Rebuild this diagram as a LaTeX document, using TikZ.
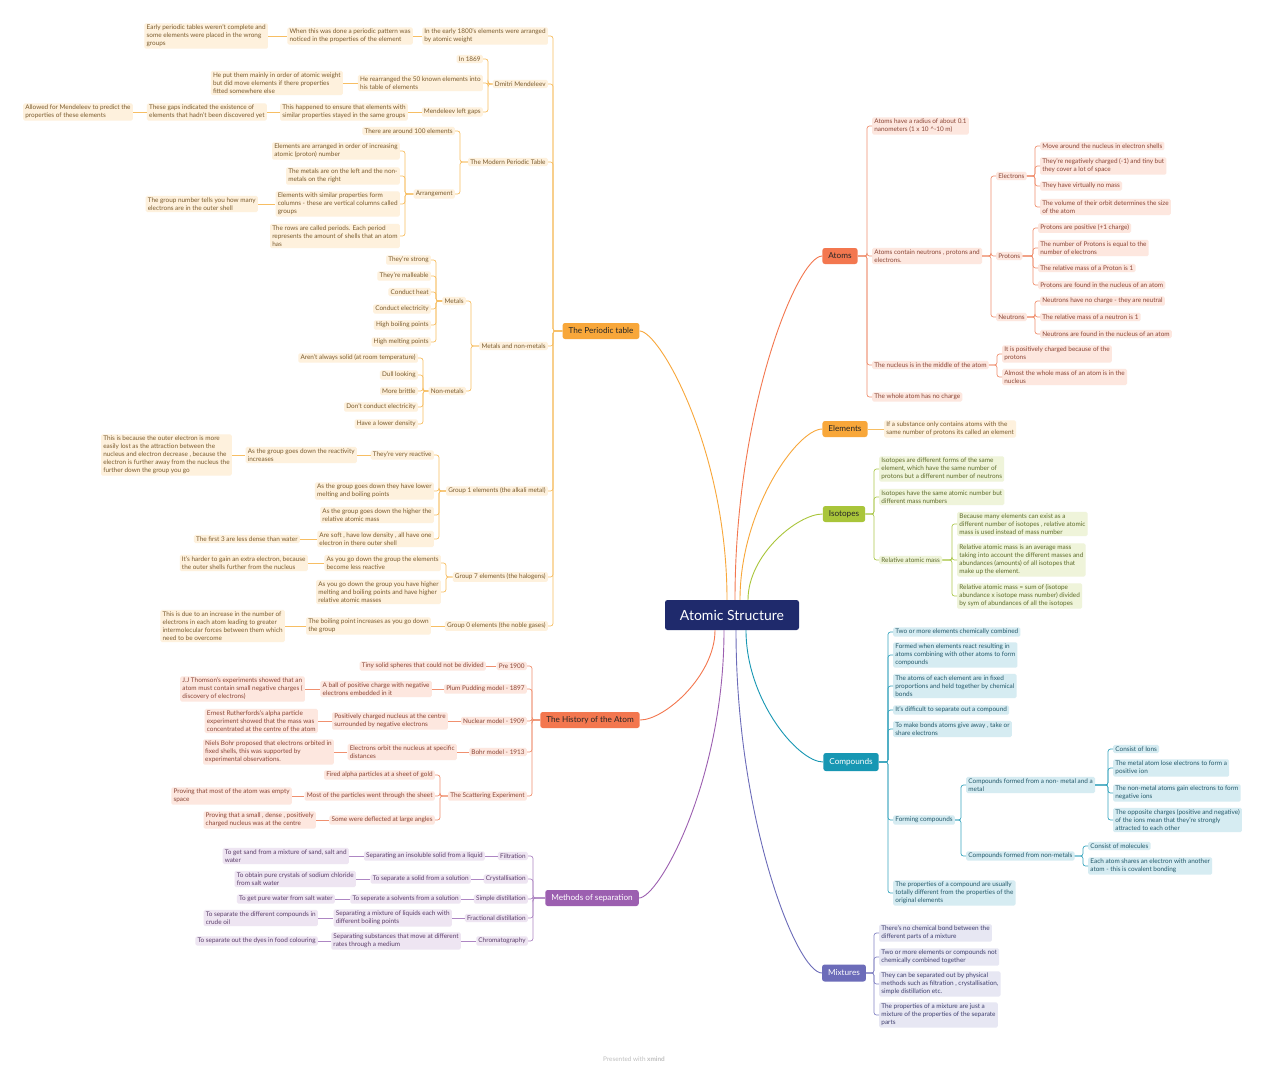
\documentclass[tikz,border=0pt]{standalone}
\usepackage{fontspec}
\setmainfont{Lato}
\usepackage{xcolor}
\usepackage{tikz}
\usetikzlibrary{positioning, calc}
\definecolor{rootMain}{HTML}{1F2A6C}
\definecolor{ptMain}{HTML}{F8A73A}
\definecolor{ptLine}{HTML}{F7BE63}
\definecolor{ptFill}{HTML}{FEF1DD}
\definecolor{ptText}{HTML}{7A5B2E}
\definecolor{atMain}{HTML}{F3774F}
\definecolor{atLine}{HTML}{F0906F}
\definecolor{atFill}{HTML}{FDE7DF}
\definecolor{atText}{HTML}{8A4535}
\definecolor{isMain}{HTML}{A9C53A}
\definecolor{isLine}{HTML}{ADC94F}
\definecolor{isFill}{HTML}{EFF4DA}
\definecolor{isText}{HTML}{5E6B2B}
\definecolor{coMain}{HTML}{1797B3}
\definecolor{coLine}{HTML}{3AA6BF}
\definecolor{coFill}{HTML}{D6ECF2}
\definecolor{coText}{HTML}{24596A}
\definecolor{mxMain}{HTML}{6C6CB9}
\definecolor{mxLine}{HTML}{8585C4}
\definecolor{mxFill}{HTML}{E7E7F3}
\definecolor{mxText}{HTML}{3F3F6E}
\definecolor{msMain}{HTML}{9C5FB0}
\definecolor{msLine}{HTML}{AE86C3}
\definecolor{msFill}{HTML}{EEE5F2}
\definecolor{msText}{HTML}{5B3E69}
\newcommand{\leafsize}{\fontsize{6.4}{8}\selectfont}
\newcommand{\branchsize}{\fontsize{8.2}{10}\selectfont}
\tikzset{
  leaf/.style={
    rectangle, rounded corners=1.5pt,
    fill=#1Fill, text=#1Text,
    inner xsep=2.2pt, inner ysep=1.7pt,
    align=left, font=\leafsize
  },
  branch/.style={
    rectangle, rounded corners=2.5pt,
    fill=#1Main, text=black!85,
    minimum height=16pt, inner xsep=6pt,
    font=\branchsize
  },
  link/.style={draw=#1Line, line width=0.7pt, rounded corners=2.5pt},
  curve/.style={draw=#1Main, line width=0.9pt}
}

\begin{document}
\begin{tikzpicture}[x=1pt, y=-1pt]
  \useasboundingbox[fill=white] (0,0) rectangle (1269,1080);

  % centre
  \node[rectangle, rounded corners=2.5pt, fill=rootMain, text=white,
    minimum width=134pt, minimum height=30pt,
    font=\fontsize{14}{16}\selectfont] (root) at (732,615) {Atomic Structure};

  % main topics
  \node[branch=pt] (pt) at (601,331) {The Periodic table};
  \node[branch=at] (hi) at (590,720) {The History of the Atom};
  \node[branch=ms, text=white] (ms) at (592,898) {Methods of separation};
  \node[branch=at] (at) at (840,256) {Atoms};
  \node[branch=pt] (el) at (845,429) {Elements};
  \node[branch=is] (is) at (844,514) {Isotopes};
  \node[branch=co, text=white, minimum height=18pt] (co) at (851,762) {Compounds};
  \node[branch=mx, text=white, minimum height=17pt] (mx) at (844,973) {Mixtures};

  \draw[curve=pt] ([xshift=-5pt]root.north) .. controls +(0,-150) and +(20,0) .. (pt.east);
  \draw[curve=at] ([xshift=3pt]root.north) .. controls +(0,-190) and +(-25,0) .. (at.west);
  \draw[curve=pt] ([xshift=8pt]root.north) .. controls +(0,-90) and +(-25,0) .. (el.west);
  \draw[curve=is] ([xshift=16pt]root.north) .. controls +(0,-45) and +(-25,0) .. (is.west);
  \draw[curve=at] ([xshift=-17pt]root.south) .. controls +(0,45) and +(25,0) .. (hi.east);
  \draw[curve=ms] ([xshift=-8pt]root.south) .. controls +(0,150) and +(20,0) .. (ms.east);
  \draw[curve=mx] ([xshift=4pt]root.south) .. controls +(0,190) and +(-25,0) .. (mx.west);
  \draw[curve=co] ([xshift=14pt]root.south) .. controls +(0,70) and +(-25,0) .. (co.west);

  % the periodic table
  \begin{scope}[every node/.style={leaf=pt, anchor=east}]
    \node (ptEarly) at (548,36) {In the early 1800's elements were arranged\\by atomic weight};
    \node (ptPattern) at (413,36) {When this was done a periodic pattern was\\noticed in the properties of the element};
    \node (ptWrong) at (268,36) {Early periodic tables weren't complete and\\some elements were placed in the wrong\\groups};
    \node (ptDmitri) at (548,84) {Dmitri Mendeleev};
    \node (pt1869) at (483,59) {In 1869};
    \node (ptRearr) at (483,83) {He rearranged the 50 known elements into\\his table of elements};
    \node (ptMainly) at (343,83) {He put them mainly in order of atomic weight\\but did move elements if there properties\\fitted somewhere else};
    \node (ptGaps) at (483,112) {Mendeleev left gaps};
    \node (ptEnsure) at (408,112) {This happened to ensure that elements with\\similar properties stayed in the same groups};
    \node (ptIndicate) at (267,112) {These gaps indicated the existence of\\elements that hadn't been discovered yet};
    \node (ptPredict) at (133,112) {Allowed for Mendeleev to predict the\\properties of these elements};
    \node (ptModern) at (548,162) {The Modern Periodic Table};
    \node (ptHundred) at (455,131) {There are around 100 elements};
    \node (ptArr) at (455,194) {Arrangement};
    \node (ptArrA) at (400,151) {Elements are arranged in order of increasing\\atomic (proton) number};
    \node (ptArrB) at (400,176) {The metals are on the left and the non-\\metals on the right};
    \node (ptArrC) at (400,204) {Elements with similar properties form\\columns - these are vertical columns called\\groups};
    \node (ptGroupNo) at (258,204) {The group number tells you how many\\electrons are in the outer shell};
    \node (ptArrD) at (400,236) {The rows are called periods. Each period\\represents the amount of shells that an atom\\has};
    \node (ptMetNon) at (548,346) {Metals and non-metals};
    \node (ptMetals) at (466,301) {Metals};
    \node (ptM1) at (431,260) {They're strong};
    \node (ptM2) at (431,276) {They're malleable};
    \node (ptM3) at (431,292) {Conduct heat};
    \node (ptM4) at (431,309) {Conduct electricity};
    \node (ptM5) at (431,325) {High boiling points};
    \node (ptM6) at (431,342) {High melting points};
    \node (ptNonMet) at (466,391) {Non-metals};
    \node (ptN1) at (418,358) {Aren't always solid (at room temperature)};
    \node (ptN2) at (418,375) {Dull looking};
    \node (ptN3) at (418,391) {More brittle};
    \node (ptN4) at (418,407) {Don't conduct electricity};
    \node (ptN5) at (418,424) {Have a lower density};
    \node (ptGroupI) at (548,491) {Group 1 elements (the alkali metal)};
    \node (ptReactive) at (434,455) {They're very reactive};
    \node (ptReactDown) at (357,455) {As the group goes down the reactivity\\increases};
    \node (ptBecause) at (232,455) {This is because the outer electron is more\\easily lost as the attraction between the\\nucleus and electron decrease , because the\\electron is further away from the nucleus the\\further down the group you go};
    \node (ptLowerMP) at (434,491) {As the group goes down they have lower\\melting and boiling points};
    \node (ptHigherRAM) at (434,515) {As the group goes down the higher the\\relative atomic mass};
    \node (ptSoft) at (434,539) {Are soft , have low density , all have one\\electron in there outer shell};
    \node (ptFirst3) at (300,539) {The first 3 are less dense than water};
    \node (ptGroup7) at (548,577) {Group 7 elements (the halogens)};
    \node (ptLessReact) at (441,563) {As you go down the group the elements\\become less reactive};
    \node (ptHarder) at (308,563) {It's harder to gain an extra electron, because\\the outer shells further from the nucleus};
    \node (ptHigherMP) at (441,592) {As you go down the group you have higher\\melting and boiling points and have higher\\relative atomic masses};
    \node (ptGroup0) at (548,626) {Group 0 elements (the noble gases)};
    \node (ptBoilInc) at (431,626) {The boiling point increases as you go down\\the group};
    \node (ptDueTo) at (285,626) {This is due to an increase in the number of\\electrons in each atom leading to greater\\intermolecular forces between them which\\need to be overcome};
  \end{scope}
  \foreach \c in {ptEarly, ptDmitri, ptModern, ptMetNon, ptGroupI, ptGroup7, ptGroup0}
    \draw[link=pt] (\c.east) -- ++(5,0) |- (pt.west);
  \foreach \c in {pt1869, ptRearr, ptGaps}
    \draw[link=pt] (\c.east) -- ++(5,0) |- (ptDmitri.west);
  \foreach \c in {ptHundred, ptArr}
    \draw[link=pt] (\c.east) -- ++(5,0) |- (ptModern.west);
  \foreach \c in {ptArrA, ptArrB, ptArrC, ptArrD}
    \draw[link=pt] (\c.east) -- ++(5,0) |- (ptArr.west);
  \foreach \c in {ptMetals, ptNonMet}
    \draw[link=pt] (\c.east) -- ++(5,0) |- (ptMetNon.west);
  \foreach \c in {ptM1, ptM2, ptM3, ptM4, ptM5, ptM6}
    \draw[link=pt] (\c.east) -- ++(5,0) |- (ptMetals.west);
  \foreach \c in {ptN1, ptN2, ptN3, ptN4, ptN5}
    \draw[link=pt] (\c.east) -- ++(5,0) |- (ptNonMet.west);
  \foreach \c in {ptReactive, ptLowerMP, ptHigherRAM, ptSoft}
    \draw[link=pt] (\c.east) -- ++(5,0) |- (ptGroupI.west);
  \foreach \c in {ptLessReact, ptHigherMP}
    \draw[link=pt] (\c.east) -- ++(5,0) |- (ptGroup7.west);
  \draw[link=pt] (ptPattern.east) -- (ptEarly.west);
  \draw[link=pt] (ptWrong.east) -- (ptPattern.west);
  \draw[link=pt] (ptMainly.east) -- (ptRearr.west);
  \draw[link=pt] (ptEnsure.east) -- (ptGaps.west);
  \draw[link=pt] (ptIndicate.east) -- (ptEnsure.west);
  \draw[link=pt] (ptPredict.east) -- (ptIndicate.west);
  \draw[link=pt] (ptGroupNo.east) -- (ptArrC.west);
  \draw[link=pt] (ptReactDown.east) -- (ptReactive.west);
  \draw[link=pt] (ptBecause.east) -- (ptReactDown.west);
  \draw[link=pt] (ptFirst3.east) -- (ptSoft.west);
  \draw[link=pt] (ptHarder.east) -- (ptLessReact.west);
  \draw[link=pt] (ptBoilInc.east) -- (ptGroup0.west);
  \draw[link=pt] (ptDueTo.east) -- (ptBoilInc.west);

  % the history of the atom
  \begin{scope}[every node/.style={leaf=at, anchor=east}]
    \node (hiPre) at (527,666) {Pre 1900};
    \node (hiTiny) at (486,666) {Tiny solid spheres that could not be divided};
    \node (hiPlum) at (527,689) {Plum Pudding model - 1897};
    \node (hiBall) at (432,689) {A ball of positive charge with negative\\electrons embedded in it};
    \node (hiThomson) at (305,689) {J.J Thomson's experiments showed that an\\atom must contain small negative charges (\\discovery of electrons)};
    \node (hiNuclear) at (527,721) {Nuclear model - 1909};
    \node (hiPosNuc) at (448,721) {Positively charged nucleus at the centre\\surrounded by negative electrons};
    \node (hiRuth) at (318,721) {Ernest Rutherfords's alpha particle\\experiment showed that the mass was\\concentrated at the centre of the atom};
    \node (hiBohr) at (527,752) {Bohr model - 1913};
    \node (hiOrbit) at (457,752) {Electrons orbit the nucleus at specific\\distances};
    \node (hiNiels) at (334,752) {Niels Bohr proposed that electrons orbited in\\fixed shells, this was supported by\\experimental observations.};
    \node (hiScatter) at (527,796) {The Scattering Experiment};
    \node (hiFired) at (435,775) {Fired alpha particles at a sheet of gold};
    \node (hiMost) at (435,796) {Most of the particles went through the sheet};
    \node (hiEmpty) at (292,796) {Proving that most of the atom was empty\\space};
    \node (hiDeflect) at (435,820) {Some were deflected at large angles};
    \node (hiDense) at (316,820) {Proving that a small , dense , positively\\charged nucleus was at the centre};
  \end{scope}
  \foreach \c in {hiPre, hiPlum, hiNuclear, hiBohr, hiScatter}
    \draw[link=at] (\c.east) -- ++(5,0) |- (hi.west);
  \foreach \c in {hiFired, hiMost, hiDeflect}
    \draw[link=at] (\c.east) -- ++(5,0) |- (hiScatter.west);
  \draw[link=at] (hiTiny.east) -- (hiPre.west);
  \draw[link=at] (hiBall.east) -- (hiPlum.west);
  \draw[link=at] (hiThomson.east) -- (hiBall.west);
  \draw[link=at] (hiPosNuc.east) -- (hiNuclear.west);
  \draw[link=at] (hiRuth.east) -- (hiPosNuc.west);
  \draw[link=at] (hiOrbit.east) -- (hiBohr.west);
  \draw[link=at] (hiNiels.east) -- (hiOrbit.west);
  \draw[link=at] (hiEmpty.east) -- (hiMost.west);
  \draw[link=at] (hiDense.east) -- (hiDeflect.west);

  % methods of separation
  \begin{scope}[every node/.style={leaf=ms, anchor=east}]
    \node (msFilt) at (528,856) {Filtration};
    \node (msInsol) at (485,856) {Separating an insoluble solid from a liquid};
    \node (msSand) at (349,856) {To get sand from a mixture of sand, salt and\\water};
    \node (msCryst) at (528,879) {Crystallisation};
    \node (msSolid) at (471,879) {To separate a solid from a solution};
    \node (msNaCl) at (356,879) {To obtain pure crystals of sodium chloride\\from salt water};
    \node (msSimple) at (528,899) {Simple distillation};
    \node (msSolvent) at (461,899) {To seperate a solvents from a solution};
    \node (msWater) at (335,899) {To get pure water from salt water};
    \node (msFrac) at (528,918) {Fractional distillation};
    \node (msLiquids) at (452,918) {Separating a mixture of liquids each with\\different boiling points};
    \node (msCrude) at (318,918) {To separate the different compounds in\\crude oil};
    \node (msChrom) at (528,941) {Chromatography};
    \node (msMedium) at (461,941) {Separating substances that move at different\\rates through a medium};
    \node (msDyes) at (318,941) {To separate out the dyes in food colouring};
  \end{scope}
  \foreach \c in {msFilt, msCryst, msSimple, msFrac, msChrom}
    \draw[link=ms] (\c.east) -- ++(5,0) |- (ms.west);
  \draw[link=ms] (msInsol.east) -- (msFilt.west);
  \draw[link=ms] (msSand.east) -- (msInsol.west);
  \draw[link=ms] (msSolid.east) -- (msCryst.west);
  \draw[link=ms] (msNaCl.east) -- (msSolid.west);
  \draw[link=ms] (msSolvent.east) -- (msSimple.west);
  \draw[link=ms] (msWater.east) -- (msSolvent.west);
  \draw[link=ms] (msLiquids.east) -- (msFrac.west);
  \draw[link=ms] (msCrude.east) -- (msLiquids.west);
  \draw[link=ms] (msMedium.east) -- (msChrom.west);
  \draw[link=ms] (msDyes.east) -- (msMedium.west);

  % atoms
  \begin{scope}[every node/.style={leaf=at, anchor=west}]
    \node (atRadius) at (872,126) {Atoms have a radius of about 0.1\\nanometers (1 x 10 \textasciicircum-10 m)};
    \node (atContain) at (872,256) {Atoms contain neutrons , protons and\\electrons.};
    \node (atNucleus) at (872,365) {The nucleus is in the middle of the atom};
    \node (atNoCharge) at (872,397) {The whole atom has no charge};
    \node (atElectrons) at (996,176) {Electrons};
    \node (atE1) at (1040,146) {Move around the nucleus in electron shells};
    \node (atE2) at (1040,166) {They're negatively charged (-1) and tiny but\\they cover a lot of space};
    \node (atE3) at (1040,186) {They have virtually no mass};
    \node (atE4) at (1040,207) {The volume of their orbit determines the size\\of the atom};
    \node (atProtons) at (996,256) {Protons};
    \node (atP1) at (1038,228) {Protons are positive (+1 charge)};
    \node (atP2) at (1038,248) {The number of Protons is equal to the\\number of electrons};
    \node (atP3) at (1038,268) {The relative mass of a Proton is 1};
    \node (atP4) at (1038,285) {Protons are found in the nucleus of an atom};
    \node (atNeutrons) at (996,317) {Neutrons};
    \node (atN1) at (1040,301) {Neutrons have no charge - they are neutral};
    \node (atN2) at (1040,317) {The relative mass of a neutron is 1};
    \node (atN3) at (1040,334) {Neutrons are found in the nucleus of an atom};
    \node (atPosCh) at (1002,354) {It is positively charged because of the\\protons};
    \node (atMass) at (1002,377) {Almost the whole mass of an atom is in the\\nucleus};
  \end{scope}
  \foreach \c in {atRadius, atContain, atNucleus, atNoCharge}
    \draw[link=at] (\c.west) -- ++(-5,0) |- (at.east);
  \foreach \c in {atElectrons, atProtons, atNeutrons}
    \draw[link=at] (\c.west) -- ++(-5,0) |- (atContain.east);
  \foreach \c in {atE1, atE2, atE3, atE4}
    \draw[link=at] (\c.west) -- ++(-5,0) |- (atElectrons.east);
  \foreach \c in {atP1, atP2, atP3, atP4}
    \draw[link=at] (\c.west) -- ++(-5,0) |- (atProtons.east);
  \foreach \c in {atN1, atN2, atN3}
    \draw[link=at] (\c.west) -- ++(-5,0) |- (atNeutrons.east);
  \foreach \c in {atPosCh, atMass}
    \draw[link=at] (\c.west) -- ++(-5,0) |- (atNucleus.east);

  % elements
  \node[leaf=pt, anchor=west] (elDef) at (884,429) {If a substance only contains atoms with the\\same number of protons its called an element};
  \draw[link=pt] (el.east) -- (elDef.west);

  % isotopes
  \begin{scope}[every node/.style={leaf=is, anchor=west}]
    \node (isForms) at (879,469) {Isotopes are different forms of the same\\element, which have the same number of\\protons but a different number of neutrons};
    \node (isSame) at (879,497) {Isotopes have the same atomic number but\\different mass numbers};
    \node (isRAM) at (879,560) {Relative atomic mass};
    \node (isBecause) at (957,524) {Because many elements can exist as a\\different number of isotopes , relative atomic\\mass is used instead of mass number};
    \node (isAverage) at (957,560) {Relative atomic mass is an average mass\\taking into account the different masses and\\abundances (amounts) of all isotopes that\\make up the element.};
    \node (isSum) at (957,596) {Relative atomic mass = sum of (isotope\\abundance x isotope mass number) divided\\by sym of abundances of all the isotopes};
  \end{scope}
  \foreach \c in {isForms, isSame, isRAM}
    \draw[link=is] (\c.west) -- ++(-5,0) |- (is.east);
  \foreach \c in {isBecause, isAverage, isSum}
    \draw[link=is] (\c.west) -- ++(-5,0) |- (isRAM.east);

  % compounds
  \begin{scope}[every node/.style={leaf=co, anchor=west}]
    \node (coTwo) at (893,632) {Two or more elements chemically combined};
    \node (coFormed) at (893,655) {Formed when elements react resulting in\\atoms combining with other atoms to form\\compounds};
    \node (coFixed) at (893,686) {The atoms of each element are in fixed\\proportions and held together by chemical\\bonds};
    \node (coDifficult) at (893,710) {It's difficult to separate out a compound};
    \node (coBonds) at (893,729) {To make bonds atoms give away , take or\\share electrons};
    \node (coForming) at (893,820) {Forming compounds};
    \node (coProps) at (893,893) {The properties of a compound are usually\\totally different from the properties of the\\original elements};
    \node (coIonic) at (966,785) {Compounds formed from a non- metal and a\\metal};
    \node (coCovalent) at (966,856) {Compounds formed from non-metals};
    \node (coIons) at (1113,749) {Consist of Ions};
    \node (coLose) at (1113,768) {The metal atom lose electrons to form a\\positive ion};
    \node (coGain) at (1113,793) {The non-metal atoms gain electrons to form\\negative ions};
    \node (coOpposite) at (1113,820) {The opposite charges (positive and negative)\\of the ions mean that they're strongly\\attracted to each other};
    \node (coMolecules) at (1088,846) {Consist of molecules};
    \node (coShares) at (1088,866) {Each atom shares an electron with another\\atom - this is covalent bonding};
  \end{scope}
  \foreach \c in {coTwo, coFormed, coFixed, coDifficult, coBonds, coForming, coProps}
    \draw[link=co] (\c.west) -- ++(-5,0) |- (co.east);
  \foreach \c in {coIonic, coCovalent}
    \draw[link=co] (\c.west) -- ++(-5,0) |- (coForming.east);
  \foreach \c in {coIons, coLose, coGain, coOpposite}
    \draw[link=co] (\c.west) -- ++(-5,0) |- (coIonic.east);
  \foreach \c in {coMolecules, coShares}
    \draw[link=co] (\c.west) -- ++(-5,0) |- (coCovalent.east);

  % mixtures
  \begin{scope}[every node/.style={leaf=mx, anchor=west}]
    \node (mxBond) at (879,933) {There's no chemical bond between the\\different parts of a mixture};
    \node (mxTwo) at (879,957) {Two or more elements or compounds not\\chemically combined together};
    \node (mxPhysical) at (879,984) {They can be separated out by physical\\methods such as filtration , crystallisation,\\simple distillation etc.};
    \node (mxProps) at (879,1015) {The properties of a mixture are just a\\mixture of the properties of the separate\\parts};
  \end{scope}
  \foreach \c in {mxBond, mxTwo, mxPhysical, mxProps}
    \draw[link=mx] (\c.west) -- ++(-5,0) |- (mx.east);

  \node[text=black!25, font=\leafsize] (credit) at (634,1059) {Presented with \textbf{xmind}};
\end{tikzpicture}
\end{document}
